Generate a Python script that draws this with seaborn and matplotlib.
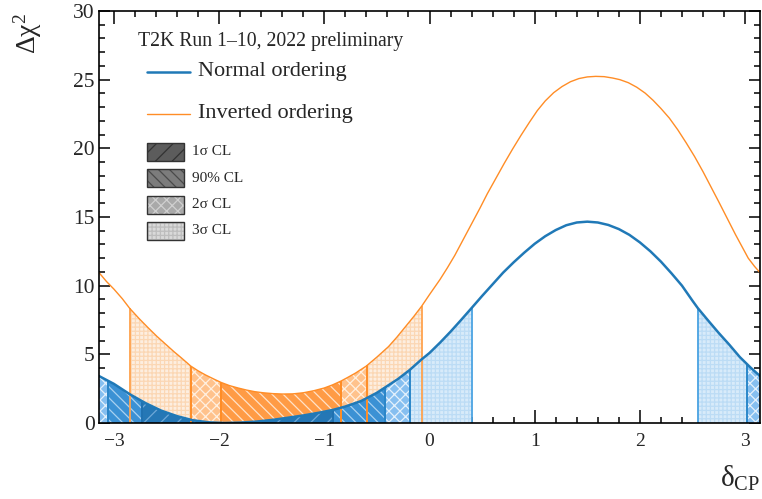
"""T2K delta_CP Delta-chi2 profile, Run 1-10 2022 preliminary."""

import matplotlib
matplotlib.use("Agg")
import matplotlib.pyplot as plt
from matplotlib.patches import Rectangle
from matplotlib.ticker import MultipleLocator
import numpy as np
import pandas as pd
import seaborn as sns

sns.set_theme(style="ticks")
plt.rcParams["font.family"] = ["Liberation Serif", "DejaVu Serif"]
plt.rcParams["mathtext.fontset"] = "custom"
plt.rcParams["mathtext.rm"] = "Liberation Serif"
plt.rcParams["mathtext.it"] = "Liberation Serif:italic"
plt.rcParams["hatch.linewidth"] = 0.9

# Normal ordering curve
no_delta = [-3.1416, -3.0, -2.85, -2.7, -2.55, -2.4, -2.25, -2.1, -1.95, -1.8,
            -1.65, -1.5, -1.35, -1.2, -1.05, -0.92, -0.8, -0.65, -0.5, -0.42,
            -0.3, -0.19, -0.08, 0.0, 0.1, 0.2, 0.3, 0.4, 0.5, 0.6,
            0.7, 0.8, 0.9, 1.0, 1.1, 1.2, 1.3, 1.4, 1.5, 1.6,
            1.7, 1.8, 1.9, 2.0, 2.1, 2.2, 2.3, 2.4, 2.5, 2.55,
            2.65, 2.75, 2.85, 2.95, 3.05, 3.1416]
no_dchi2 = [3.42, 2.85, 2.1, 1.45, 0.9, 0.5, 0.2, 0.05, 0.0, 0.03,
            0.1, 0.22, 0.38, 0.55, 0.75, 0.95, 1.2, 1.6, 2.2, 2.6,
            3.2, 3.85, 4.6, 5.1, 5.85, 6.65, 7.5, 8.37, 9.25, 10.1,
            10.95, 11.7, 12.4, 13.05, 13.6, 14.05, 14.4, 14.6, 14.66, 14.6,
            14.42, 14.12, 13.7, 13.15, 12.5, 11.75, 10.9, 10.0, 8.9, 8.37,
            7.45, 6.55, 5.7, 4.8, 4.05, 3.42]

# Inverted ordering curve
io_delta = [-3.1416, -3.07, -3.0, -2.92, -2.85, -2.76, -2.67, -2.59, -2.51, -2.43,
            -2.36, -2.27, -2.2, -2.13, -2.05, -1.98, -1.9, -1.82, -1.74, -1.66,
            -1.58, -1.49, -1.4, -1.3, -1.2, -1.1, -1.0, -0.92, -0.84, -0.77,
            -0.7, -0.6, -0.5, -0.39, -0.31, -0.23, -0.15, -0.075, 0.0, 0.1,
            0.17, 0.24, 0.32, 0.4, 0.48, 0.55, 0.63, 0.71, 0.79, 0.87,
            0.95, 1.025, 1.1, 1.18, 1.26, 1.34, 1.42, 1.5, 1.58, 1.66,
            1.74, 1.81, 1.89, 1.97, 2.05, 2.125, 2.2, 2.28, 2.36, 2.44,
            2.52, 2.6, 2.675, 2.75, 2.83, 2.91, 2.97, 3.03, 3.09, 3.1416]
io_dchi2 = [10.95, 10.3, 9.75, 9.05, 8.35, 7.6, 6.9, 6.3, 5.75, 5.2,
            4.75, 4.15, 3.8, 3.5, 3.2, 2.95, 2.72, 2.55, 2.4, 2.28,
            2.2, 2.14, 2.11, 2.12, 2.2, 2.35, 2.55, 2.78, 3.06, 3.35,
            3.65, 4.15, 4.8, 5.56, 6.25, 7.0, 7.75, 8.5, 9.35, 10.45,
            11.3, 12.2, 13.35, 14.5, 15.65, 16.7, 17.8, 18.9, 19.95, 20.95,
            21.9, 22.75, 23.45, 24.05, 24.5, 24.85, 25.08, 25.2, 25.24, 25.22,
            25.12, 25.0, 24.78, 24.45, 24.02, 23.5, 22.9, 22.2, 21.35, 20.4,
            19.4, 18.3, 17.2, 16.1, 14.9, 13.7, 12.85, 12.0, 11.4, 10.95]

# confidence intervals (delta_CP ranges)
no_1sig = [(-2.73, -0.92)]
no_90 = [(-3.06, -2.73), (-0.92, -0.42)]
no_2sig = [(-3.1416, -3.06), (-0.42, -0.19), (3.02, 3.1416)]
no_3sig = [(-0.19, 0.40), (2.55, 3.02)]
io_90 = [(-1.98, -0.84)]
io_2sig = [(-2.27, -1.98), (-0.84, -0.59)]
io_3sig = [(-2.85, -2.27), (-0.59, -0.075)]

cl_labels = ["1σ CL", "90% CL", "2σ CL", "3σ CL"]

BLUE = "#2079b7"
ORANGE = "#ff8d26"


def band(ax, xs, ys, ranges, face, hatch, hatch_col, line_col, z):
    for lo, hi in ranges:
        inner = [v for v in xs if lo < v < hi]
        bx = np.array([lo] + inner + [hi])
        by = np.interp(bx, xs, ys)
        ax.fill_between(bx, 0, by, facecolor=face, edgecolor="none", lw=0, zorder=z)
        ax.fill_between(bx, 0, by, facecolor="none", edgecolor=hatch_col,
                        hatch=hatch, lw=0, zorder=z + 0.1)
        for edge in (lo, hi):
            if abs(abs(edge) - np.pi) > 0.01:
                ax.vlines(edge, 0, np.interp(edge, xs, ys), color=line_col,
                          lw=1.3, zorder=z + 3)


fig = plt.figure(figsize=(7.62, 4.99), dpi=100)
ax = fig.add_axes([99 / 762, 76 / 499, 661 / 762, 412 / 499])

# inverted ordering bands
band(ax, io_delta, io_dchi2, io_3sig, "#fdeee0", "++++", "#fbd7b4", "#ffa24d", 1)
band(ax, io_delta, io_dchi2, io_2sig, "#ffc28c", "xxx", "#fff0e0", ORANGE, 1)
band(ax, io_delta, io_dchi2, io_90, "#ff9b45", "\\\\\\", "#ffe2c8", ORANGE, 1)

# normal ordering bands
band(ax, no_delta, no_dchi2, no_3sig, "#d8ebfa", "++++", "#bcdcf5", "#4aa3e2", 2)
band(ax, no_delta, no_dchi2, no_2sig, "#86bff0", "xxx", "#e4f1fc", "#2b86c8", 2)
band(ax, no_delta, no_dchi2, no_90, "#3b91d4", "\\\\\\", "#a9d1f0", "#2b86c8", 2)
band(ax, no_delta, no_dchi2, no_1sig, "#2577b5", "//", "#6ea8d8", "#1f6fae", 2)

no_df = pd.DataFrame({"delta": no_delta, "dchi2": no_dchi2})
io_df = pd.DataFrame({"delta": io_delta, "dchi2": io_dchi2})
sns.lineplot(data=io_df, x="delta", y="dchi2", color=ORANGE, lw=1.0, ax=ax, zorder=6)
sns.lineplot(data=no_df, x="delta", y="dchi2", color=BLUE, lw=1.8, ax=ax, zorder=7)

ax.set_xlim(-np.pi, np.pi)
ax.set_ylim(0, 30)
ax.set_xticks([-3, -2, -1, 0, 1, 2, 3])
ax.set_yticks([0, 5, 10, 15, 20, 25, 30])
ax.xaxis.set_minor_locator(MultipleLocator(0.2))
ax.yaxis.set_minor_locator(MultipleLocator(1))
ax.tick_params(which="both", direction="in", top=True, right=True, color="black", width=1.1)
ax.tick_params(axis="x", which="major", length=9.5, pad=7, labelsize=14)
ax.tick_params(axis="x", which="minor", length=4.5)
ax.tick_params(axis="y", which="major", length=8, pad=3, labelsize=15.5)
ax.tick_params(axis="y", which="minor", length=4.5)
ax.set_xticklabels(["\u22123", "\u22122", "\u22121", "0", "1", "2", "3"])
for sp in ax.spines.values():
    sp.set_linewidth(1.2)
    sp.set_color("black")
    sp.set_zorder(10)
ax.set_xlabel("")
ax.set_ylabel("")

fig.text(28 / 762, 1 - 33 / 499, "Δχ$^{2}$", rotation=90, ha="center", va="center", fontsize=20)
fig.text(760 / 762, 1 - 478 / 499, "δ$_{\\rm CP}$", ha="right", va="center", fontsize=21)


def axx(px):
    return (px - 99) / 661


def axy(py):
    return (423 - py) / 412


ax.text(axx(138), axy(42), "T2K Run 1\u201310, 2022 preliminary", transform=ax.transAxes,
        ha="left", va="center", fontsize=14.2, zorder=11)
ax.plot([axx(147), axx(190)], [axy(72), axy(72)], color=BLUE, lw=1.8,
        transform=ax.transAxes, zorder=11)
ax.text(axx(198), axy(72), "Normal ordering", transform=ax.transAxes,
        ha="left", va="center", fontsize=16, zorder=11)
ax.plot([axx(147), axx(190)], [axy(114), axy(114)], color=ORANGE, lw=1.0,
        transform=ax.transAxes, zorder=11)
ax.text(axx(198), axy(114), "Inverted ordering", transform=ax.transAxes,
        ha="left", va="center", fontsize=16, zorder=11)

box_tops = [143, 169, 196, 222]
box_faces = ["#5c5c5c", "#7c7c7c", "#a9a9a9", "#d9d9d9"]
box_hatch = ["//", "\\\\\\", "xxx", "++++"]
box_hcol = ["#333333", "#4a4a4a", "#d0d0d0", "#bdbdbd"]
for top, face, h, hc, lab in zip(box_tops, box_faces, box_hatch, box_hcol, cl_labels):
    x0, y0 = axx(147), axy(top + 18)
    w, hgt = axx(184) - axx(147), axy(top) - axy(top + 18)
    ax.add_patch(Rectangle((x0, y0), w, hgt, transform=ax.transAxes, facecolor=face,
                           edgecolor="none", zorder=11))
    ax.add_patch(Rectangle((x0, y0), w, hgt, transform=ax.transAxes, facecolor="none",
                           edgecolor=hc, hatch=h, lw=0, zorder=11.1))
    ax.add_patch(Rectangle((x0, y0), w, hgt, transform=ax.transAxes, facecolor="none",
                           edgecolor="#333333", lw=1.0, zorder=11.2))
    ax.text(axx(192), axy(top + 9), lab, transform=ax.transAxes, ha="left",
            va="center", fontsize=11, zorder=11)

fig.savefig("out.png", dpi=100)
plt.close(fig)
